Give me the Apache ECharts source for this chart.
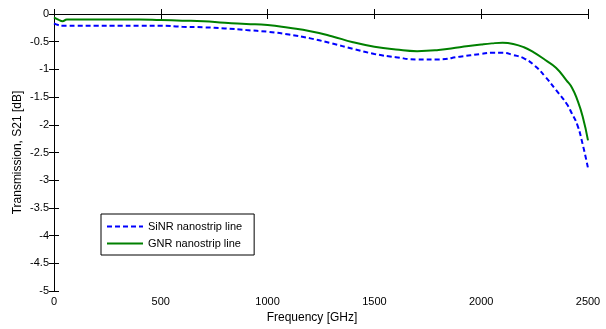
<!DOCTYPE html>
<html>
<head>
<meta charset="utf-8">
<script src="https://cdn.jsdelivr.net/npm/echarts@6/dist/echarts.min.js"></script>
<style>
  html, body { margin: 0; padding: 0; background: #fff; }
  #chart { width: 606px; height: 329px; }
</style>
</head>
<body>
<div id="chart"></div>
<script>
// frequency samples [GHz]
const freq = [0, 20, 40, 60, 100, 200, 300, 400, 500, 600, 700, 800, 900, 1000, 1100, 1200, 1300, 1400, 1500, 1600, 1700, 1800, 1900, 2000, 2050, 2100, 2150, 2200, 2250, 2300, 2350, 2400, 2425, 2450, 2475, 2500]
// S21 [dB]
const sinr = [-0.17, -0.2, -0.21, -0.21, -0.21, -0.21, -0.21, -0.21, -0.21, -0.23, -0.24, -0.26, -0.29, -0.32, -0.37, -0.44, -0.53, -0.63, -0.72, -0.78, -0.82, -0.82, -0.77, -0.72, -0.7, -0.7, -0.74, -0.8, -0.93, -1.13, -1.37, -1.62, -1.8, -2.0, -2.35, -2.78]
const gnr = [-0.06, -0.1, -0.13, -0.1, -0.1, -0.1, -0.1, -0.1, -0.11, -0.12, -0.13, -0.16, -0.18, -0.2, -0.25, -0.31, -0.4, -0.51, -0.59, -0.64, -0.67, -0.65, -0.6, -0.55, -0.53, -0.52, -0.54, -0.6, -0.7, -0.83, -0.97, -1.2, -1.33, -1.55, -1.85, -2.28]
const names = ['SiNR nanostrip line', 'GNR nanostrip line']

const font = 'Liberation Sans, Arial, sans-serif'
const pair = (ys) => freq.map((f, i) => [f, ys[i]])

const chart = echarts.init(document.getElementById('chart'))

const axisCommon = {
  type: 'value',
  axisLine: { show: true, lineStyle: { color: '#000', width: 1 } },
  axisTick: { show: true, inside: true, length: 5, lineStyle: { color: '#000' } },
  splitLine: { show: false },
}

chart.setOption({
  animation: false,
  grid: { left: 54, right: 18, top: 14, bottom: 34 },
  legend: {
    orient: 'vertical',
    left: 101,
    top: 214,
    itemWidth: 36,
    itemHeight: 10,
    itemGap: 6,
    padding: [7, 12, 6, 5],
    borderColor: '#000',
    borderWidth: 1,
    backgroundColor: '#fff',
    itemStyle: { opacity: 0 },
    textStyle: { fontFamily: font, fontSize: 11, color: '#000' },
    data: names,
  },
  xAxis: [
    Object.assign({}, axisCommon, {
      min: 0, max: 2500, interval: 500,
      name: 'Frequency [GHz]', nameLocation: 'middle', nameGap: 20,
      nameTextStyle: { fontFamily: font, fontSize: 12, color: '#000', padding: [0, 18, 0, 0] },
      axisLabel: { fontFamily: font, fontSize: 11, color: '#000', margin: 5, formatter: (v) => String(v) },
    }),
    Object.assign({}, axisCommon, {
      position: 'top', min: 0, max: 2500, interval: 500,
      axisLabel: { show: false },
    }),
  ],
  yAxis: [
    Object.assign({}, axisCommon, {
      min: -5, max: 0, interval: 0.5,
      name: 'Transmission, S21 [dB]', nameLocation: 'middle', nameGap: 30,
      nameMoveOverlap: false,
      nameTextStyle: { fontFamily: font, fontSize: 12, color: '#000' },
      axisLabel: { fontFamily: font, fontSize: 11, color: '#000', margin: 5, formatter: (v) => String(v) },
    }),
    Object.assign({}, axisCommon, {
      position: 'right', min: -5, max: 0, interval: 0.5,
      axisLabel: { show: false },
    }),
  ],
  series: [
    {
      name: names[0], type: 'line', smooth: true, symbol: 'none',
      data: pair(sinr), color: '#0000ff',
      lineStyle: { width: 2, type: [5, 3] },
    },
    {
      name: names[1], type: 'line', smooth: true, symbol: 'none',
      data: pair(gnr), color: '#008000',
      lineStyle: { width: 2 },
    },
  ],
})
</script>
</body>
</html>
